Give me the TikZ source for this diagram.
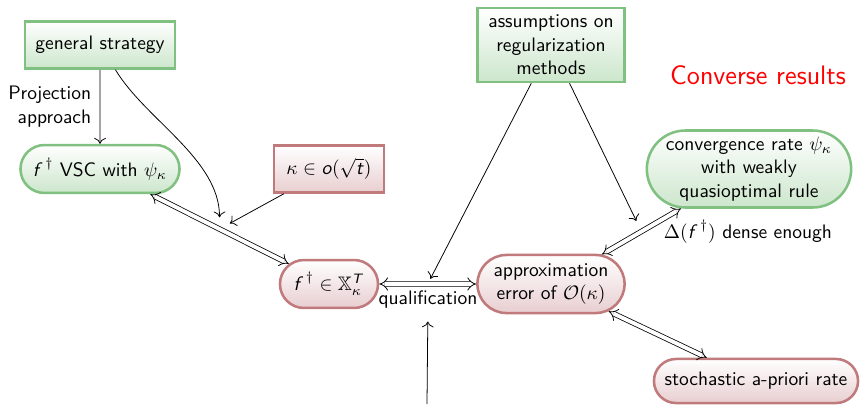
\documentclass[tikz,border=0pt]{standalone}
\usepackage{amsmath,amssymb}
\usetikzlibrary{shapes.misc,arrows.meta,calc}
\definecolor{gdraw}{RGB}{128,192,128}
\definecolor{gfill}{RGB}{204,230,204}
\definecolor{rdraw}{RGB}{192,122,124}
\definecolor{rfill}{RGB}{232,206,208}
\newcommand{\sv}[1]{\text{\sffamily\itshape #1\/}}
\begin{document}
\begin{tikzpicture}[x=0.513pt,y=-0.513pt,font=\sffamily,
  box/.style={rectangle,line width=1.3pt,align=center,inner sep=1pt},
  pill/.style={rounded rectangle,line width=1.3pt,align=center,inner sep=1pt},
  gr/.style={draw=gdraw,top color=white,bottom color=gfill},
  rd/.style={draw=rdraw,top color=white,bottom color=rfill},
  arr/.style={thin,-{To[length=3pt,width=6pt]}},
  dbl/.style={double distance=2pt,thin,{Implies}-{Implies}}]
\useasboundingbox (0,0) rectangle (864,404);
% nodes
\node[box,gr,minimum width=77pt,minimum height=24.1pt] (gs) at (100,45) {general strategy};
\node[pill,gr,minimum width=83.6pt,minimum height=24.6pt] (vsc) at (100,169) {$\sv{f}^{\,\dagger}$ VSC with $\psi_\kappa$};
\node[box,rd,minimum width=56.4pt,minimum height=24.1pt] (kap) at (329,169) {$\kappa\in \sv{o}(\sqrt{\sv{t}})$};
\node[box,gr,minimum width=75.4pt,minimum height=38pt] (as) at (551,45) {assumptions on\\regularization\\methods};
\node[pill,gr,minimum width=103.6pt,minimum height=39.5pt] (cv) at (749,169) {convergence rate $\psi_\kappa$\\with weakly\\quasioptimal rule};
\node[pill,rd,minimum width=52.3pt,minimum height=24.6pt] (xk) at (329,284) {$\sv{f}^{\,\dagger}\in\mathbb{X}_\kappa^{\sv{T}}$};
\node[pill,rd,minimum width=77.5pt,minimum height=29.8pt] (ap) at (551,284) {approximation\\error of $\mathcal{O}(\kappa)$};
\node[pill,rd,minimum width=106.7pt,minimum height=22.6pt] (st) at (756,381) {stochastic a-priori rate};
\node[text=red,font=\sffamily\fontsize{13.7}{16}\selectfont] (cr) at (758,75) {Converse results};
\node (de) at (748,232) {$\Delta(\sv{f}^{\,\dagger})$ dense enough};
\node (q) at (428,300) {qualification};
\coordinate (bot) at (427,404);
% connectors
\draw[arr] (gs) -- node[left,align=right,xshift=-1pt] {Projection\\approach} (vsc);
\draw[dbl] (vsc) -- coordinate (m1) (xk);
\draw[dbl] (xk) -- coordinate (m2) (ap);
\draw[dbl] (ap) -- coordinate (m3) (cv);
\draw[dbl] (ap) -- (st);
\draw[arr,shorten >=6pt] (gs.-58) .. controls +(30,50) and +(0,-70) .. (m1);
\draw[arr,shorten >=6pt] (kap) -- (m1);
\draw[arr,shorten >=3pt] (as) -- (m2);
\draw[arr,shorten >=6pt] (as) -- (m3);
\draw[arr,shorten >=3pt] (bot) -- (q);
\end{tikzpicture}
\end{document}
